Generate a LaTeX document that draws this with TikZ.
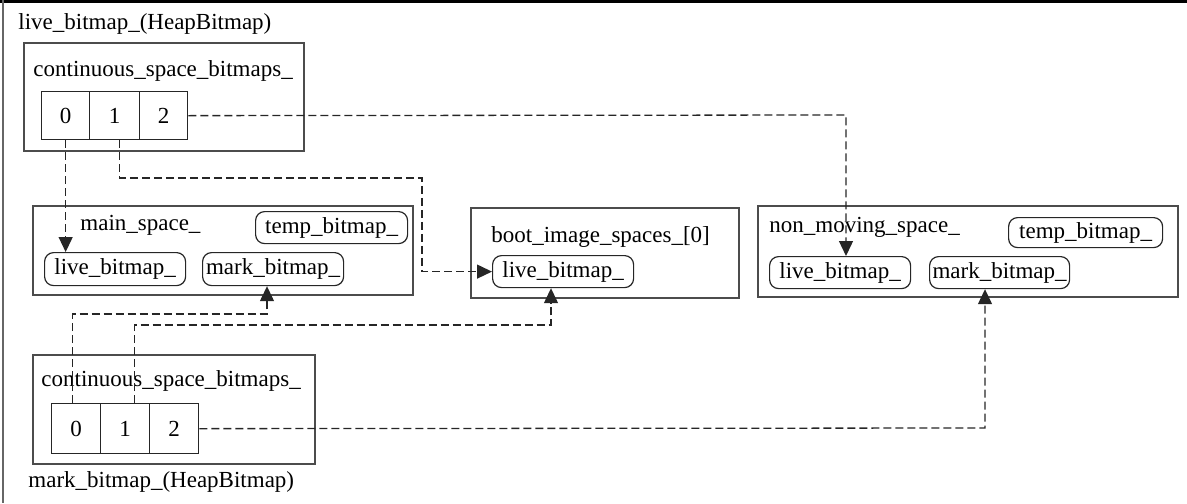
\documentclass[tikz,border=0pt]{standalone}
\usepackage{fontspec}
\setmainfont{Liberation Serif}
\newfontfamily\tnrfont{Liberation Serif}
\usetikzlibrary{arrows.meta}
\begin{document}
\begin{tikzpicture}[x=0.5pt,y=-0.5pt,
  font=\tnrfont\fontsize{11.5}{13}\selectfont,
  box/.style={draw=black!70, line width=0.8pt, inner sep=0pt, anchor=north west},
  cell/.style={draw=black!85, line width=0.65pt, inner sep=0pt, anchor=north west, minimum height=24pt},
  rbox/.style={draw=black!85, line width=0.6pt, rounded corners=4.5pt, inner sep=0pt, anchor=north west},
  lbl/.style={inner sep=0pt, anchor=west},
  dline/.style={draw=black!85, line width=0.65pt, dash pattern=on 4pt off 2pt},
  arr/.style={-{Triangle[length=7.5pt,width=7pt]}}]
\useasboundingbox (0,0) rectangle (1187,503);
% frame lines
\draw[line width=1.5pt] (0,1.5) -- (1187,1.5);
\draw[black!60, line width=0.7pt] (3,0) -- (3,503);

% live bitmap heap bitmap
\node[lbl] (t1) at (18,24) {live\_bitmap\_(HeapBitmap)};
\node[box, minimum width=140pt, minimum height=54pt] (bx1) at (23,42) {};
\node[lbl] (cs1) at (33,71) {continuous\_space\_bitmaps\_};
\node[cell, minimum width=24pt] (c0) at (41,91) {0};
\node[cell, minimum width=25pt] (c1) at (89,91) {1};
\node[cell, minimum width=24pt] (c2) at (139,91) {2};

% main space
\node[box, minimum width=190pt, minimum height=44.5pt] (ms) at (32,205) {};
\node[lbl] (mst) at (80,225) {main\_space\_};
\node[rbox, minimum width=76pt, minimum height=16pt] (mt) at (255,211) {temp\_bitmap\_};
\node[rbox, minimum width=70.5pt, minimum height=16.5pt] (ml) at (44,252) {live\_bitmap\_};
\node[rbox, minimum width=70.5pt, minimum height=16.5pt] (mm) at (202,252) {mark\_bitmap\_};

% boot image space
\node[box, minimum width=134pt, minimum height=45pt] (bs) at (470,207) {};
\node[lbl] (bst) at (491,237) {boot\_image\_spaces\_[0]};
\node[rbox, minimum width=70.5pt, minimum height=16pt] (bl) at (492,255) {live\_bitmap\_};

% non moving space
\node[box, minimum width=210pt, minimum height=45.5pt] (ns) at (757,205) {};
\node[lbl] (nst) at (769,227) {non\_moving\_space\_};
\node[rbox, minimum width=77pt, minimum height=15pt] (nt) at (1008,217) {temp\_bitmap\_};
\node[rbox, minimum width=70.5pt, minimum height=16pt] (nl) at (769,256) {live\_bitmap\_};
\node[rbox, minimum width=70pt, minimum height=16pt] (nm) at (929,256) {mark\_bitmap\_};

% mark bitmap heap bitmap
\node[box, minimum width=141pt, minimum height=54.5pt] (bx2) at (32,354) {};
\node[lbl] (cs2) at (41,381) {continuous\_space\_bitmaps\_};
\node[cell, minimum width=24.5pt, minimum height=25pt] (b0) at (51,403) {0};
\node[cell, minimum width=24.5pt, minimum height=25pt] (b1) at (100,403) {1};
\node[cell, minimum width=24.5pt, minimum height=25pt] (b2) at (149,403) {2};
\node[lbl] (t2) at (28,482) {mark\_bitmap\_(HeapBitmap)};

% connectors from live bitmap
\draw[dline, arr] (c0.south) -- (c0.south |- ml.north);
\coordinate (k1) at (422,178);
\draw[dline, arr] ([xshift=2.5pt]c1.south) |- (k1) |- (bl.west);
\coordinate (k2) at (846,115);
\draw[dline, arr] (c2.east) -- (k2) -- (k2 |- nl.north);

% connectors from mark bitmap
\coordinate (m0) at (267,314);
\draw[dline, arr] ([xshift=-1.75pt]b0.north) |- (m0) -- (m0 |- mm.south);
\coordinate (m1) at (551,325);
\draw[dline, arr] ([xshift=4.75pt]b1.north) |- (m1) -- (m1 |- bl.south);
\coordinate (m2) at (985,428);
\draw[dline, arr] (b2.east) -- (m2) -- (m2 |- nm.south);
\end{tikzpicture}
\end{document}
